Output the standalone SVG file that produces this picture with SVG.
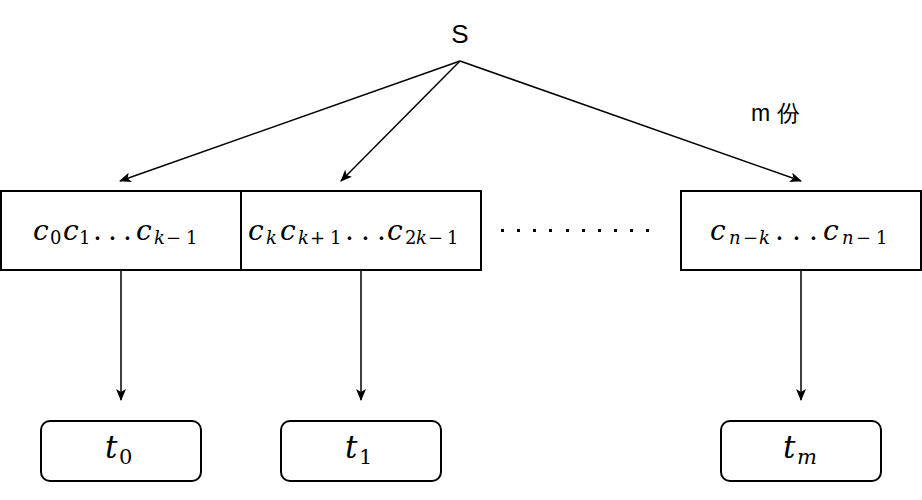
<svg xmlns="http://www.w3.org/2000/svg" width="922" height="500" viewBox="0 0 922 500">
<defs>
<style>
.box{fill:#fff;stroke:#000;stroke-width:2}
.edge{fill:none;stroke:#000;stroke-width:1.5}
.math{font-family:"DejaVu Serif","Liberation Serif",serif;font-size:28px;fill:#000}
.i{font-style:italic}
.s{font-size:18px}
.t{font-size:31px}
.ts{font-size:21px}
.lbl{font-family:"Liberation Sans",Arial,sans-serif;fill:#000}
</style>
<marker id="arr" viewBox="0 0 12 10" refX="11" refY="5" markerWidth="12" markerHeight="10" markerUnits="userSpaceOnUse" orient="auto">
<path d="M0,0 L12,5 L0,10 L3,5 Z" fill="#000"/>
</marker>
</defs>
<rect width="922" height="500" fill="#fff"/>
<g id="edges">
<line class="edge" x1="460" y1="61" x2="120" y2="181" marker-end="url(#arr)"/>
<line class="edge" x1="460" y1="61" x2="341" y2="181" marker-end="url(#arr)"/>
<line class="edge" x1="460" y1="61" x2="801" y2="181" marker-end="url(#arr)"/>
<line class="edge" x1="121" y1="271" x2="121" y2="400" marker-end="url(#arr)"/>
<line class="edge" x1="361" y1="271" x2="361" y2="400" marker-end="url(#arr)"/>
<line class="edge" x1="801" y1="271" x2="801" y2="400" marker-end="url(#arr)"/>
</g>
<g id="S"><text class="lbl" x="460" y="43" font-size="26" text-anchor="middle">S</text></g>
<g id="m-label"><text class="lbl" x="751" y="121" font-size="23" font-family="'Liberation Sans','Noto Sans CJK SC',sans-serif">m 份</text></g>
<g id="block0">
<rect class="box" x="1" y="191" width="240" height="79"/>
<text class="math"><tspan class="i" x="33" y="240">c</tspan><tspan class="s" x="50" y="244">0</tspan><tspan class="i" x="63" y="240">c</tspan><tspan class="s" x="79" y="244">1</tspan><tspan x="93" y="240">.</tspan><tspan x="108" y="240">.</tspan><tspan x="123" y="240">.</tspan><tspan class="i" x="136" y="240">c</tspan><tspan class="s i" x="154" y="244">k</tspan><tspan class="s" x="166" y="244">−</tspan><tspan class="s" x="186" y="244">1</tspan></text>
</g>
<g id="block1">
<rect class="box" x="241" y="191" width="240" height="79"/>
<text class="math"><tspan class="i" x="248" y="240">c</tspan><tspan class="s i" x="266" y="244">k</tspan><tspan class="i" x="280" y="240">c</tspan><tspan class="s i" x="298" y="244">k</tspan><tspan class="s" x="310" y="244">+</tspan><tspan class="s" x="330" y="244">1</tspan><tspan x="345" y="240">.</tspan><tspan x="361" y="240">.</tspan><tspan x="377" y="240">.</tspan><tspan class="i" x="387" y="240">c</tspan><tspan class="s" x="405" y="244">2</tspan><tspan class="s i" x="416" y="244">k</tspan><tspan class="s" x="428" y="244">−</tspan><tspan class="s" x="447" y="244">1</tspan></text>
</g>
<g id="ellipsis">
<rect x="501" y="229" width="3" height="3"/><rect x="517" y="229" width="3" height="3"/><rect x="533" y="229" width="3" height="3"/><rect x="549" y="229" width="3" height="3"/><rect x="566" y="229" width="3" height="3"/><rect x="582" y="229" width="3" height="3"/><rect x="598" y="229" width="3" height="3"/><rect x="614" y="229" width="3" height="3"/><rect x="630" y="229" width="3" height="3"/><rect x="646" y="229" width="3" height="3"/>
</g>
<g id="block2">
<rect class="box" x="681" y="191" width="240" height="79"/>
<text class="math"><tspan class="i" x="710" y="240">c</tspan><tspan class="s i" x="729" y="244">n</tspan><tspan class="s" x="743" y="244">−</tspan><tspan class="s i" x="759" y="244">k</tspan><tspan x="775" y="240">.</tspan><tspan x="792" y="240">.</tspan><tspan x="809" y="240">.</tspan><tspan class="i" x="823" y="240">c</tspan><tspan class="s i" x="842" y="244">n</tspan><tspan class="s" x="856" y="244">−</tspan><tspan class="s" x="876" y="244">1</tspan></text>
</g>
<g id="t0">
<rect class="box" x="41" y="421" width="160" height="60" rx="9"/>
<text class="math"><tspan class="i t" x="105" y="458">t</tspan><tspan class="ts" x="119" y="464">0</tspan></text>
</g>
<g id="t1">
<rect class="box" x="281" y="421" width="160" height="60" rx="9"/>
<text class="math"><tspan class="i t" x="345" y="458">t</tspan><tspan class="ts" x="359" y="464">1</tspan></text>
</g>
<g id="tm">
<rect class="box" x="721" y="421" width="160" height="60" rx="9"/>
<text class="math"><tspan class="i t" x="783" y="458">t</tspan><tspan class="ts i" x="797" y="464">m</tspan></text>
</g>
</svg>
